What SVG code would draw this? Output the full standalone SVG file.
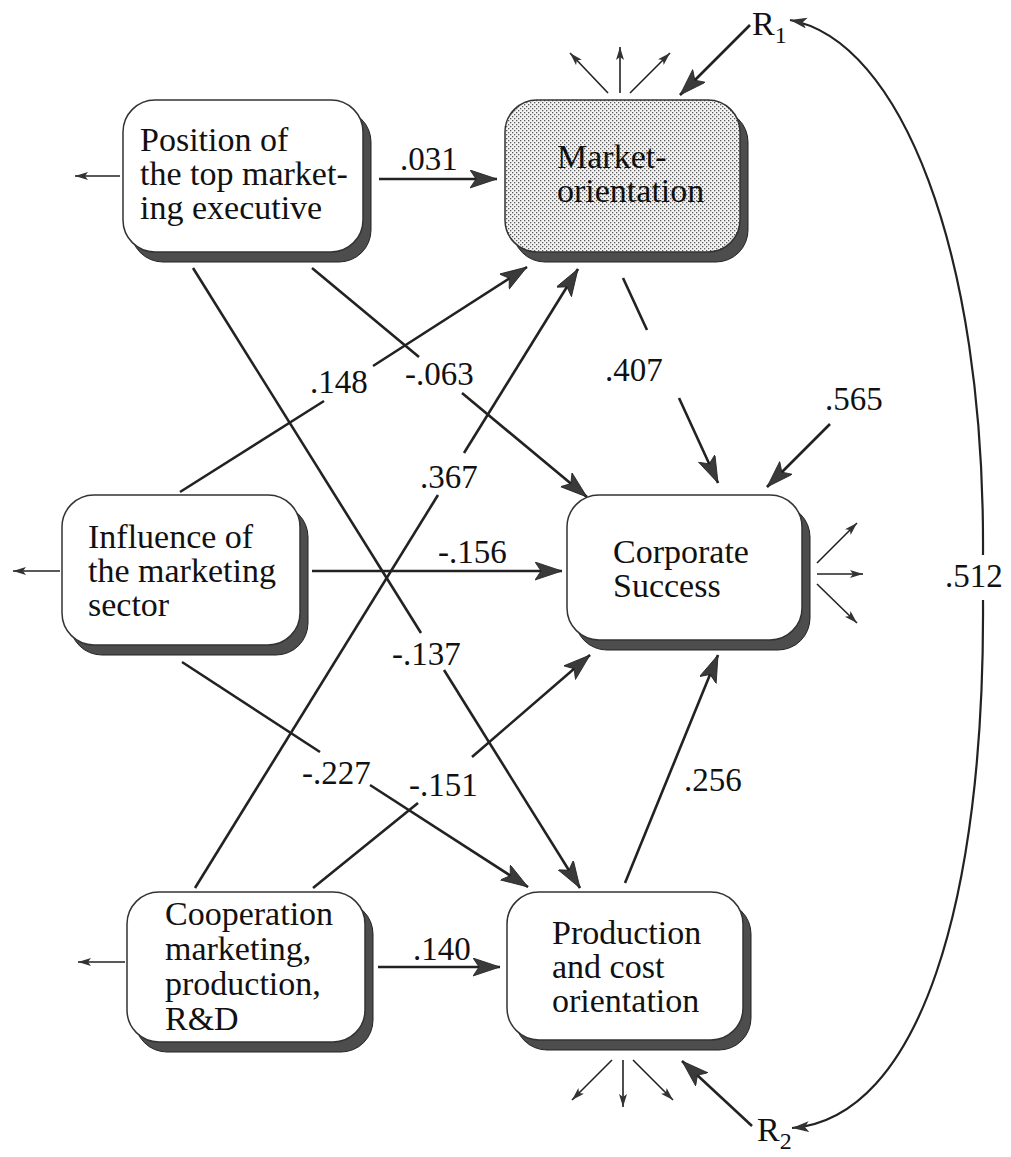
<svg xmlns="http://www.w3.org/2000/svg" width="1011" height="1157" viewBox="0 0 1011 1157">
<style>
.box{fill:#fff;stroke:#333;stroke-width:1.5}
.shadow{fill:#4d4d4d;stroke:#222;stroke-width:1}
.txt{font-family:"Liberation Serif","Times New Roman",serif;font-size:34px;fill:#111}
.lbl{font-family:"Liberation Serif","Times New Roman",serif;font-size:33px;fill:#111}
.sub{font-size:24px}
.thick{stroke:#222;stroke-width:2.6;fill:none}
.thin{stroke:#222;stroke-width:1.6;fill:none}
.arc{stroke:#222;stroke-width:2.2;fill:none}
</style>
<defs>
<pattern id="dots" width="4" height="4" patternUnits="userSpaceOnUse">
<rect width="4" height="4" fill="#f4f4f4"/>
<rect x="0" y="0" width="1.3" height="1.3" fill="#5a5a5a"/>
<rect x="2" y="2" width="1.3" height="1.3" fill="#5a5a5a"/>
</pattern>
<marker id="big" markerUnits="userSpaceOnUse" markerWidth="28" markerHeight="20" refX="27" refY="9" orient="auto">
<path d="M0,0 L27,9 L0,18 L6,9 Z" fill="#3a3a3a" stroke="#222" stroke-width="0.8"/>
</marker>
<marker id="small" markerUnits="userSpaceOnUse" markerWidth="14" markerHeight="9" refX="13" refY="4" orient="auto">
<path d="M0,0 L13,4 L0,8 L3,4 Z" fill="#333"/>
</marker>
<marker id="mid" markerUnits="userSpaceOnUse" markerWidth="18" markerHeight="12" refX="17" refY="5.5" orient="auto">
<path d="M0,0 L17,5.5 L0,11 L4,5.5 Z" fill="#333"/>
</marker>
</defs>

<g id="connectors">
<line class="thick" x1="379" y1="179" x2="497" y2="179" marker-end="url(#big)"/>
<line class="thick" x1="180" y1="492" x2="324" y2="401"/>
<line class="thick" x1="373" y1="366" x2="527" y2="267" marker-end="url(#big)"/>
<line class="thick" x1="312" y1="268" x2="419" y2="357"/>
<line class="thick" x1="462" y1="393" x2="587" y2="497" marker-end="url(#big)"/>
<line class="thick" x1="195" y1="888" x2="438" y2="495"/>
<line class="thick" x1="464" y1="453" x2="578" y2="269" marker-end="url(#big)"/>
<line class="thick" x1="193" y1="268" x2="421" y2="633"/>
<line class="thick" x1="444" y1="670" x2="580" y2="888" marker-end="url(#big)"/>
<line class="thick" x1="623" y1="278" x2="647" y2="330"/>
<line class="thick" x1="679" y1="398" x2="718" y2="483" marker-end="url(#big)"/>
<line class="thick" x1="830" y1="424" x2="767" y2="487" marker-end="url(#big)"/>
<line class="thick" x1="312" y1="571" x2="562" y2="571" marker-end="url(#big)"/>
<line class="thick" x1="182" y1="662" x2="320" y2="752"/>
<line class="thick" x1="370" y1="785" x2="528" y2="887" marker-end="url(#big)"/>
<line class="thick" x1="313" y1="888" x2="418" y2="803"/>
<line class="thick" x1="472" y1="757" x2="590" y2="655" marker-end="url(#big)"/>
<line class="thick" x1="625" y1="883" x2="718" y2="655" marker-end="url(#big)"/>
<line class="thick" x1="378" y1="967" x2="500" y2="967" marker-end="url(#big)"/>
<line class="thick" x1="750" y1="25" x2="680" y2="95" marker-end="url(#big)"/>
<line class="thick" x1="752" y1="1126" x2="682" y2="1061" marker-end="url(#big)"/>

<line class="thin" x1="120" y1="176" x2="75" y2="176" marker-end="url(#small)"/>
<line class="thin" x1="60" y1="571" x2="13" y2="571" marker-end="url(#small)"/>
<line class="thin" x1="125" y1="962" x2="78" y2="962" marker-end="url(#small)"/>
<line class="thin" x1="608" y1="93" x2="570" y2="53" marker-end="url(#small)"/>
<line class="thin" x1="620" y1="93" x2="620" y2="47" marker-end="url(#small)"/>
<line class="thin" x1="630" y1="93" x2="670" y2="53" marker-end="url(#small)"/>
<line class="thin" x1="817" y1="563" x2="857" y2="523" marker-end="url(#small)"/>
<line class="thin" x1="817" y1="574" x2="863" y2="574" marker-end="url(#small)"/>
<line class="thin" x1="817" y1="584" x2="857" y2="623" marker-end="url(#small)"/>
<line class="thin" x1="612" y1="1060" x2="572" y2="1100" marker-end="url(#small)"/>
<line class="thin" x1="623" y1="1060" x2="623" y2="1107" marker-end="url(#small)"/>
<line class="thin" x1="633" y1="1060" x2="673" y2="1100" marker-end="url(#small)"/>

<path class="arc" d="M983,555 C985,250 900,40 790,20" marker-end="url(#mid)"/>
<path class="arc" d="M983,600 C985,900 920,1118 792,1128" marker-end="url(#mid)"/>

<text class="lbl" x="400" y="170">.031</text>
<text class="lbl" x="310" y="393">.148</text>
<text class="lbl" x="405" y="385">-.063</text>
<text class="lbl" x="605" y="381">.407</text>
<text class="lbl" x="825" y="410">.565</text>
<text class="lbl" x="420" y="488">.367</text>
<text class="lbl" x="438" y="563">-.156</text>
<text class="lbl" x="392" y="665">-.137</text>
<text class="lbl" x="302" y="784">-.227</text>
<text class="lbl" x="409" y="796">-.151</text>
<text class="lbl" x="684" y="791">.256</text>
<text class="lbl" x="413" y="960">.140</text>
<text class="lbl" x="945" y="587">.512</text>
<text class="txt" x="752" y="35">R<tspan class="sub" dy="8">1</tspan></text>
<text class="txt" x="757" y="1141">R<tspan class="sub" dy="8">2</tspan></text>
</g>

<g id="position">
<rect class="shadow" x="131" y="110" width="240" height="152" rx="32"/>
<rect class="box" x="123" y="100" width="240" height="152" rx="32"/>
<text class="txt" x="140" y="151">Position of<tspan x="140" dy="34">the top market-</tspan><tspan x="140" dy="34">ing executive</tspan></text>
</g>

<g id="market">
<rect class="shadow" x="513" y="110" width="235" height="152" rx="32"/>
<rect class="box" x="505" y="100" width="235" height="152" rx="32" style="fill:url(#dots)"/>
<text class="txt" x="557" y="168">Market-<tspan x="557" dy="34">orientation</tspan></text>
</g>

<g id="influence">
<rect class="shadow" x="70" y="505" width="238" height="150" rx="32"/>
<rect class="box" x="62" y="495" width="238" height="150" rx="32"/>
<text class="txt" x="88" y="548">Influence of<tspan x="88" dy="34">the marketing</tspan><tspan x="88" dy="34">sector</tspan></text>
</g>

<g id="corporate">
<rect class="shadow" x="575" y="505" width="235" height="145" rx="32"/>
<rect class="box" x="567" y="495" width="235" height="145" rx="32"/>
<text class="txt" x="613" y="563">Corporate<tspan x="613" dy="34">Success</tspan></text>
</g>

<g id="cooperation">
<rect class="shadow" x="135" y="902" width="238" height="150" rx="32"/>
<rect class="box" x="127" y="892" width="238" height="150" rx="32"/>
<text class="txt" x="165" y="925">Cooperation<tspan x="165" dy="35">marketing,</tspan><tspan x="165" dy="35">production,</tspan><tspan x="165" dy="35">R&amp;D</tspan></text>
</g>

<g id="production">
<rect class="shadow" x="515" y="902" width="236" height="148" rx="32"/>
<rect class="box" x="507" y="892" width="236" height="148" rx="32"/>
<text class="txt" x="552" y="944">Production<tspan x="552" dy="34">and cost</tspan><tspan x="552" dy="34">orientation</tspan></text>
</g>
</svg>
